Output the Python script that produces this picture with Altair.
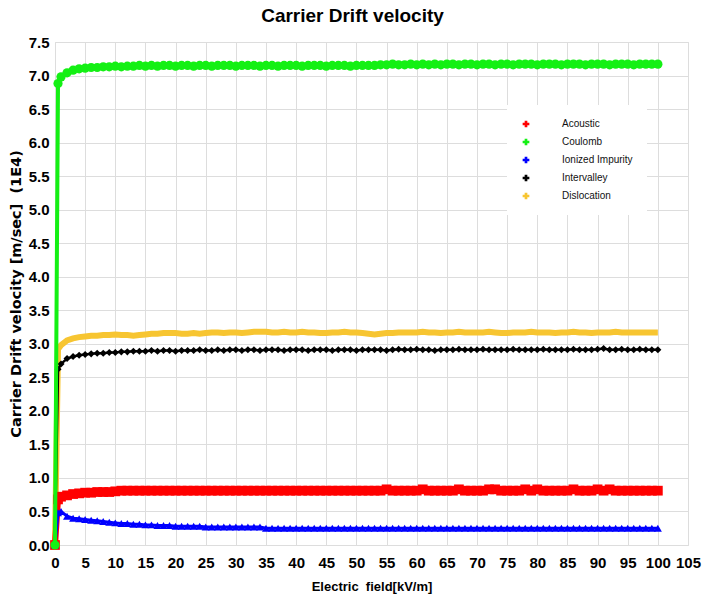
import altair as alt
import pandas as pd

field = [0, 0.5] + list(range(1, 101))

series_names = ["Acoustic", "Coulomb", "Ionized Impurity", "Intervalley", "Dislocation"]
series_colors = ["#ff0000", "#14f014", "#0000ff", "#000000", "#f7c531"]
draw_order = ["Dislocation", "Intervalley", "Acoustic", "Ionized Impurity", "Coulomb"]

coulomb = [0.00, 6.88, 6.98, 7.04, 7.08, 7.10, 7.11, 7.12, 7.12, 7.13, 7.13,
           7.14, 7.13, 7.14, 7.14, 7.15, 7.14, 7.15, 7.14, 7.15, 7.15,
           7.14, 7.15, 7.15, 7.14, 7.15, 7.15, 7.14, 7.15, 7.15, 7.15,
           7.14, 7.15, 7.15, 7.15, 7.14, 7.15, 7.15, 7.14, 7.15, 7.15,
           7.15, 7.14, 7.15, 7.15, 7.15, 7.14, 7.15, 7.15, 7.15, 7.14,
           7.15, 7.15, 7.15, 7.15, 7.16, 7.16, 7.17, 7.16, 7.16, 7.17,
           7.16, 7.17, 7.16, 7.17, 7.16, 7.17, 7.17, 7.16, 7.17, 7.17,
           7.16, 7.17, 7.17, 7.16, 7.17, 7.17, 7.16, 7.17, 7.17, 7.17,
           7.16, 7.17, 7.17, 7.17, 7.16, 7.17, 7.17, 7.17, 7.16, 7.17,
           7.17, 7.17, 7.16, 7.17, 7.17, 7.17, 7.16, 7.17, 7.17, 7.17, 7.17]

dislocation = [0.00, 2.92, 2.98, 3.05, 3.08, 3.10, 3.11, 3.12, 3.12, 3.13, 3.13,
               3.14, 3.13, 3.13, 3.12, 3.13, 3.14, 3.15, 3.15, 3.16, 3.16,
               3.16, 3.15, 3.15, 3.16, 3.15, 3.16, 3.17, 3.17, 3.16, 3.17,
               3.17, 3.16, 3.17, 3.18, 3.18, 3.18, 3.17, 3.17, 3.18, 3.17,
               3.17, 3.18, 3.17, 3.17, 3.16, 3.16, 3.17, 3.17, 3.18, 3.17,
               3.17, 3.16, 3.15, 3.14, 3.15, 3.16, 3.16, 3.17, 3.17, 3.17,
               3.17, 3.18, 3.17, 3.17, 3.16, 3.17, 3.17, 3.18, 3.17, 3.17,
               3.17, 3.17, 3.18, 3.17, 3.16, 3.16, 3.17, 3.17, 3.17, 3.18,
               3.17, 3.17, 3.17, 3.16, 3.17, 3.17, 3.18, 3.17, 3.17, 3.16,
               3.17, 3.17, 3.17, 3.18, 3.17, 3.17, 3.17, 3.17, 3.17, 3.17, 3.17]

intervalley = [0.00, 2.62, 2.70, 2.78, 2.81, 2.83, 2.84, 2.85, 2.86, 2.86, 2.87,
               2.87, 2.88, 2.88, 2.89, 2.89, 2.89, 2.90, 2.89, 2.90, 2.90,
               2.89, 2.90, 2.90, 2.90, 2.91, 2.90, 2.90, 2.91, 2.90, 2.91,
               2.91, 2.90, 2.91, 2.91, 2.90, 2.91, 2.91, 2.91, 2.90, 2.91,
               2.91, 2.91, 2.90, 2.91, 2.91, 2.91, 2.90, 2.91, 2.91, 2.91,
               2.90, 2.91, 2.91, 2.91, 2.91, 2.90, 2.91, 2.92, 2.91, 2.91,
               2.92, 2.91, 2.91, 2.90, 2.91, 2.91, 2.91, 2.92, 2.91, 2.91,
               2.91, 2.92, 2.91, 2.91, 2.91, 2.91, 2.92, 2.91, 2.91, 2.91,
               2.91, 2.92, 2.91, 2.91, 2.91, 2.91, 2.92, 2.91, 2.91, 2.91,
               2.92, 2.93, 2.91, 2.91, 2.92, 2.91, 2.91, 2.92, 2.91, 2.91, 2.91]

acoustic = [0.00, 0.68, 0.72, 0.74, 0.76, 0.77, 0.78, 0.78, 0.79, 0.79, 0.79,
            0.80, 0.81, 0.81, 0.81, 0.81, 0.81, 0.81, 0.81, 0.81, 0.81,
            0.81, 0.81, 0.81, 0.81, 0.81, 0.81, 0.81, 0.81, 0.81, 0.81,
            0.81, 0.81, 0.81, 0.81, 0.81, 0.81, 0.81, 0.81, 0.81, 0.81,
            0.81, 0.81, 0.81, 0.81, 0.81, 0.81, 0.81, 0.81, 0.81, 0.81,
            0.81, 0.81, 0.81, 0.81, 0.81, 0.83, 0.81, 0.81, 0.81, 0.81,
            0.81, 0.83, 0.81, 0.81, 0.81, 0.81, 0.81, 0.83, 0.81, 0.81,
            0.81, 0.81, 0.83, 0.83, 0.81, 0.81, 0.81, 0.81, 0.83, 0.81,
            0.83, 0.81, 0.81, 0.81, 0.81, 0.81, 0.83, 0.81, 0.81, 0.81,
            0.83, 0.81, 0.83, 0.81, 0.81, 0.81, 0.81, 0.81, 0.81, 0.81, 0.81]

ionized = [0.00, 0.48, 0.50, 0.43, 0.40, 0.39, 0.38, 0.37, 0.36, 0.35, 0.34,
           0.33, 0.32, 0.32, 0.31, 0.31, 0.30, 0.30, 0.29, 0.29, 0.29,
           0.28, 0.28, 0.28, 0.28, 0.28, 0.27, 0.27, 0.27, 0.27, 0.27,
           0.27, 0.27, 0.27, 0.27, 0.27, 0.25, 0.25, 0.25, 0.25, 0.25,
           0.25, 0.25, 0.25, 0.25, 0.25, 0.25, 0.25, 0.25, 0.25, 0.25,
           0.25, 0.25, 0.25, 0.25, 0.25, 0.25, 0.25, 0.25, 0.25, 0.25,
           0.25, 0.25, 0.25, 0.25, 0.25, 0.25, 0.25, 0.25, 0.25, 0.25,
           0.25, 0.25, 0.25, 0.25, 0.25, 0.25, 0.25, 0.25, 0.25, 0.25,
           0.25, 0.25, 0.25, 0.25, 0.25, 0.25, 0.25, 0.25, 0.25, 0.25,
           0.25, 0.25, 0.25, 0.25, 0.25, 0.25, 0.25, 0.25, 0.25, 0.25, 0.25]

x_ticks = list(range(0, 106, 5))
y_ticks = [0.0, 0.5, 1.0, 1.5, 2.0, 2.5, 3.0, 3.5, 4.0, 4.5, 5.0, 5.5, 6.0, 6.5, 7.0, 7.5]

values = {"Acoustic": acoustic, "Coulomb": coulomb, "Ionized Impurity": ionized,
          "Intervalley": intervalley, "Dislocation": dislocation}
rows = []
for name in series_names:
    for xv, yv in zip(field, values[name]):
        rows.append({"field": xv, "v": yv, "series": name})
df = pd.DataFrame(rows)

FONT = "Liberation Sans"

color_scale = alt.Scale(domain=series_names, range=series_colors)
color_leg = alt.Color("series:N", sort=series_names, scale=color_scale,
                      legend=alt.Legend(title=None, orient="none", legendX=452, legendY=63,
                                        fillColor="white", padding=14, rowPadding=8,
                                        symbolType="M-1,-0.35H1V0.35H-1Z M-0.4,-1H0.4V1H-0.4Z",
                                        symbolSize=45, symbolStrokeWidth=0,
                                        labelFont=FONT, labelFontSize=10, labelOffset=31,
                                        labelColor="#111", labelLimit=120))
color_noleg = alt.Color("series:N", sort=series_names, scale=color_scale, legend=None)

x = alt.X("field:Q", scale=alt.Scale(domain=[0, 105], nice=False),
          axis=alt.Axis(values=x_ticks, title="Electric \u00a0field[kV/m]", grid=True,
                        ticks=False, domain=False, labelPadding=10, titlePadding=10,
                        labelFlush=False,
                        labelFont=FONT, labelFontSize=15, labelFontWeight="bold",
                        labelColor="black", titleFont=FONT, titleFontSize=13,
                        titleFontWeight="bold", titleColor="black"))
y = alt.Y("v:Q", scale=alt.Scale(domain=[0, 7.5], nice=False),
          axis=alt.Axis(values=y_ticks, format=".1f",
                        title="Carrier Drift velocity [m/sec] \u00a0(1E4)", grid=True,
                        ticks=False, domain=False, labelPadding=6, titlePadding=5,
                        labelFlush=False,
                        labelFont=FONT, labelFontSize=15, labelFontWeight="bold",
                        labelColor="black", titleFont="DejaVu Sans", titleFontSize=14.5,
                        titleFontWeight="bold", titleColor="black"))

widths = {"Acoustic": 6, "Coulomb": 4, "Ionized Impurity": 3, "Intervalley": 2.5, "Dislocation": 6}
shapes = {"Acoustic": "square", "Coulomb": "circle", "Ionized Impurity": "triangle-up",
          "Intervalley": "diamond"}
sizes = {"Acoustic": 95, "Coulomb": 85, "Ionized Impurity": 65, "Intervalley": 50}

layers = []
for name in draw_order:
    sub = alt.Chart(df).transform_filter(alt.datum.series == name)
    layers.append(sub.mark_line(strokeWidth=widths[name]).encode(
        x=x, y=y, color=color_leg, order=alt.Order("field:Q")))
    if name in shapes:
        layers.append(sub.mark_point(filled=True, opacity=1, shape=shapes[name],
                                     size=sizes[name]).encode(
            x=x, y=y, color=color_noleg))

chart = alt.layer(*layers).properties(
    width=633, height=503,
    title=alt.TitleParams("Carrier Drift velocity", font=FONT, fontSize=19,
                          fontWeight="bold", color="black", anchor="middle",
                          dx=-19, offset=9),
    autosize=alt.AutoSizeParams(type="none"),
    padding={"left": 55, "top": 42, "right": 22, "bottom": 57},
).configure_view(stroke="#222", strokeWidth=2.5).configure_axis(
    gridColor="#666", gridDash=[3, 3], gridWidth=1, gridOpacity=1
).configure(background="white")

chart.save("out.html", embed_options={"renderer": "svg", "actions": False})
